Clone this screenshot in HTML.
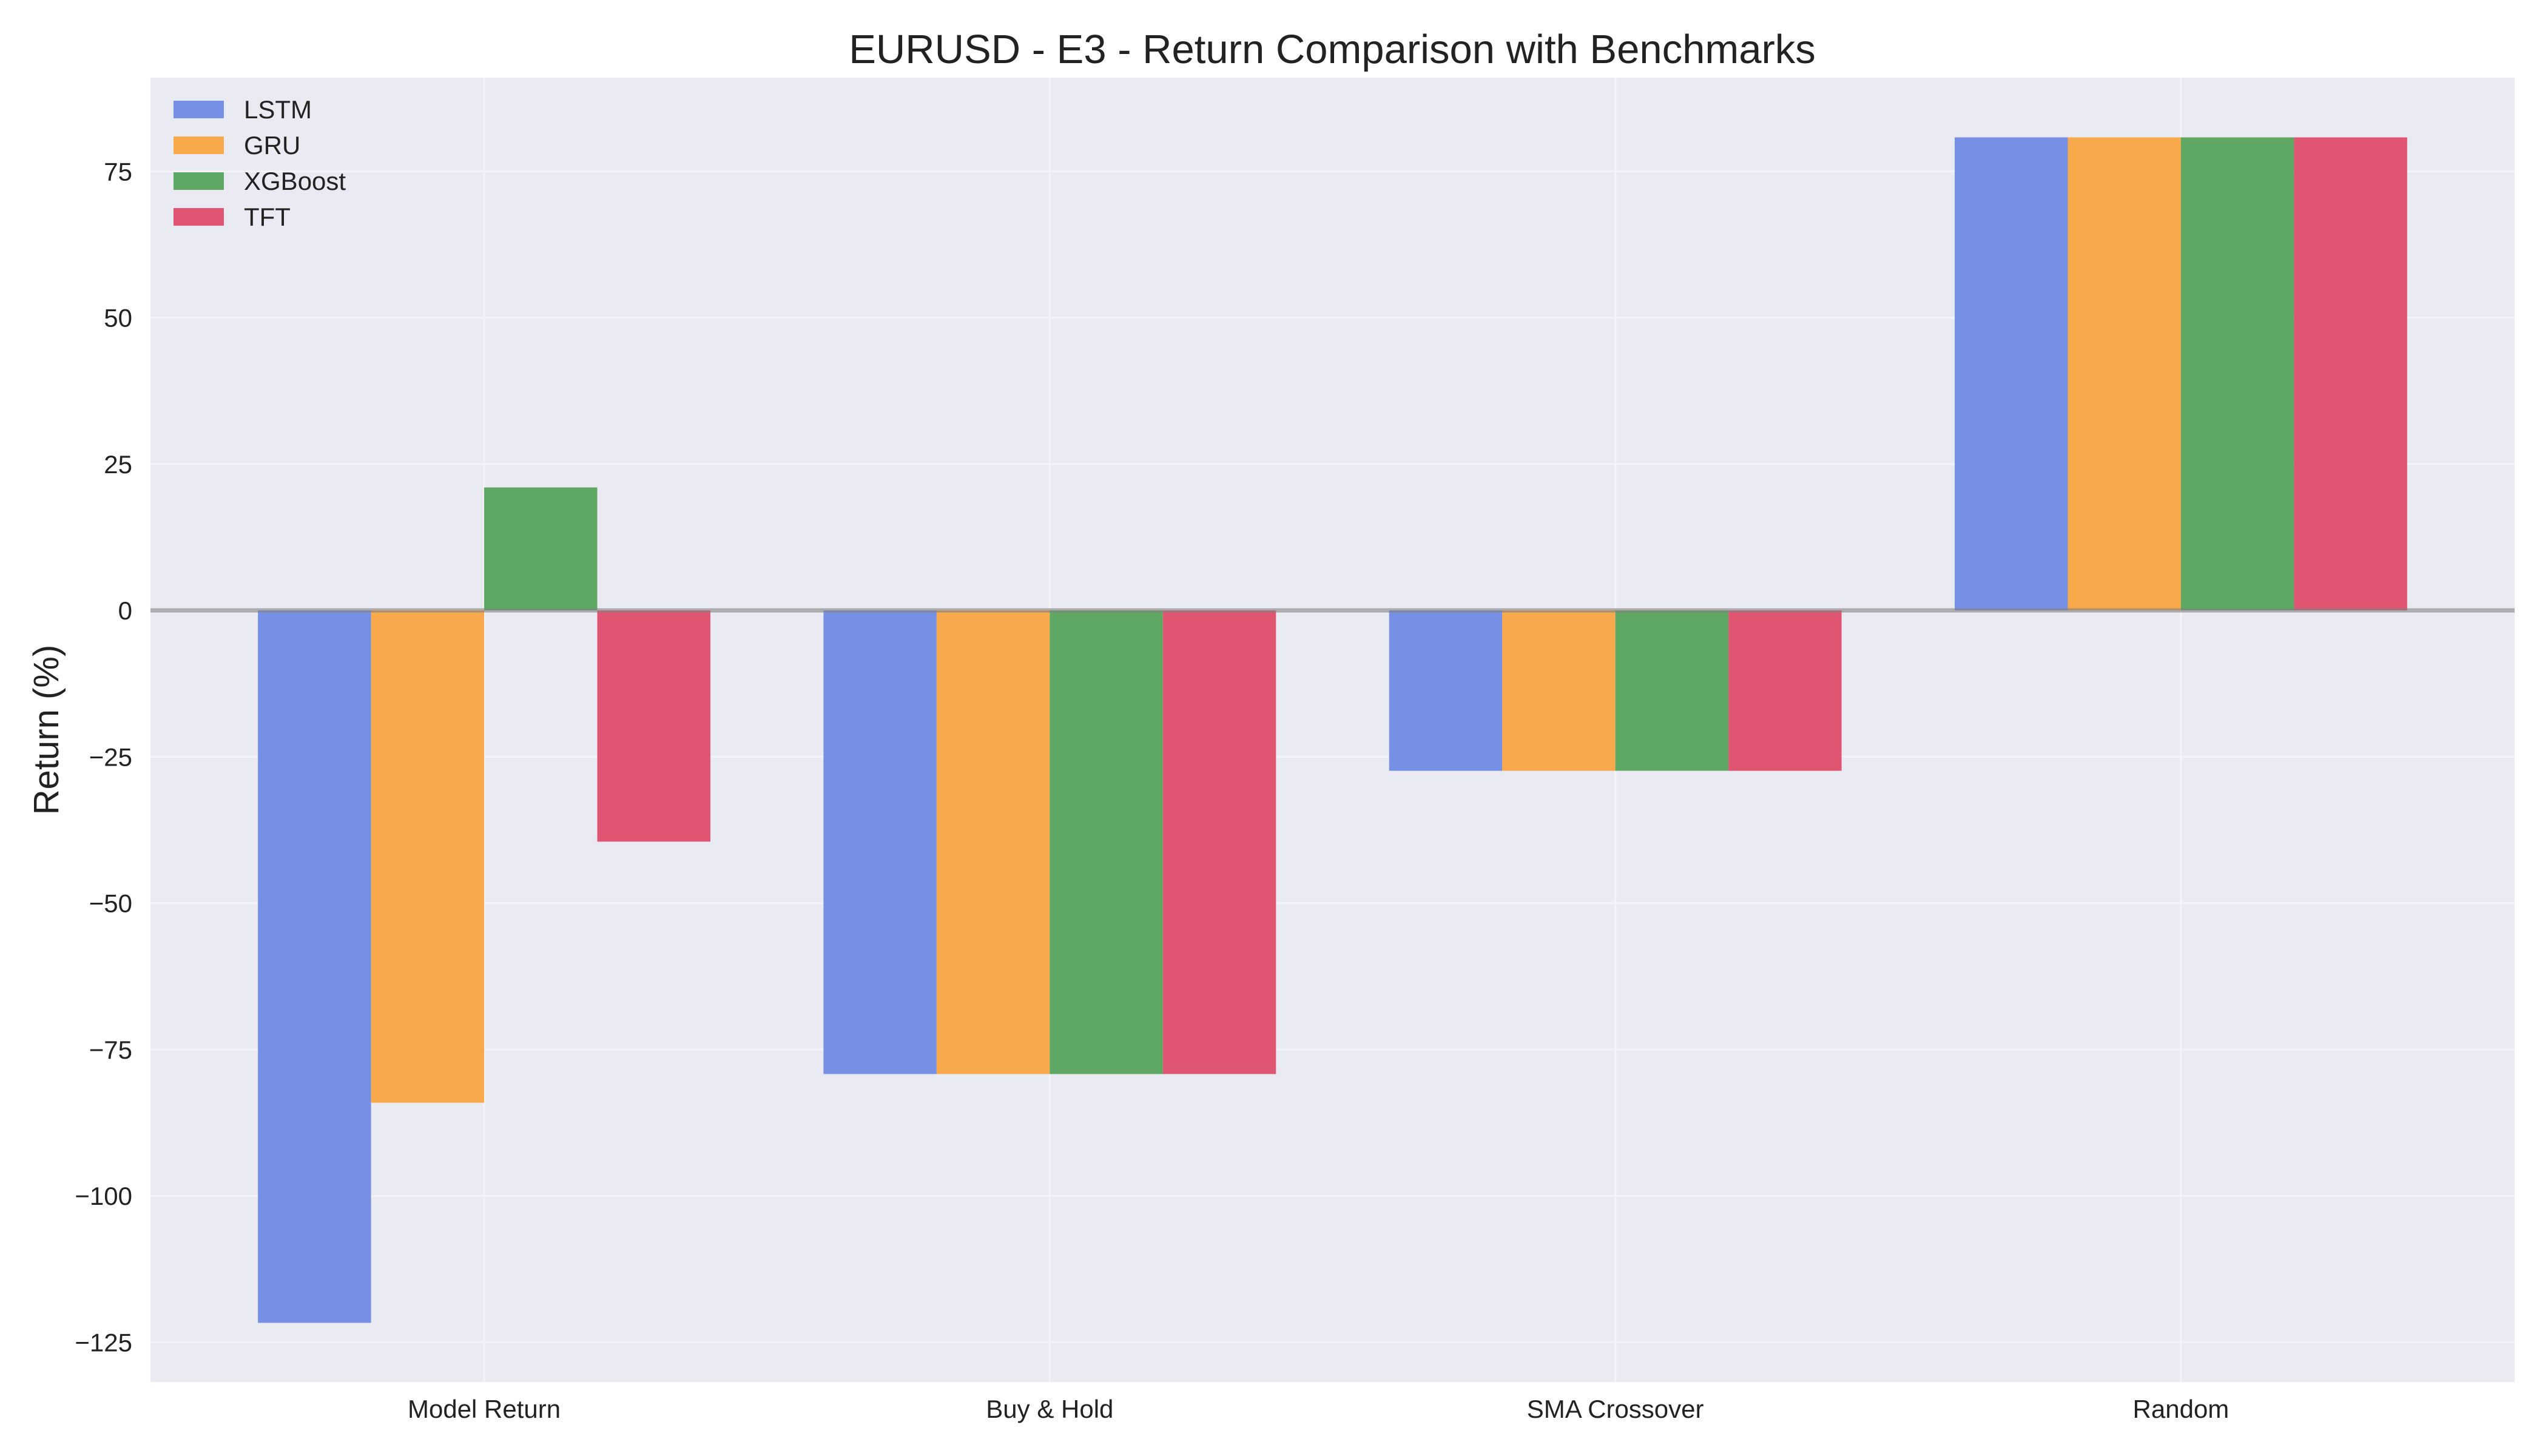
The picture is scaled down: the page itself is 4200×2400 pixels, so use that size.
<!DOCTYPE html>
<html><head><meta charset="utf-8"><style>
html,body{margin:0;padding:0;background:#fff;}
svg{display:block;font-family:"Liberation Sans",Arial,sans-serif;}
</style></head><body>
<svg id="chart" width="4200" height="2400" viewBox="0 0 4200 2400" xmlns="http://www.w3.org/2000/svg">
<rect x="0" y="0" width="4200" height="2400" fill="#ffffff"/>
<text x="2196" y="104" font-size="67" text-anchor="middle" fill="#222">EURUSD - E3 - Return Comparison with Benchmarks</text>
<g id="plot"></g>
</svg>
<script>
const categories = ["Model Return", "Buy & Hold", "SMA Crossover", "Random"];
const seriesNames = ["LSTM", "GRU", "XGBoost", "TFT"];
const lstmValues = [-121.7, -79.2, -27.4, 80.8];
const gruValues = [-84.1, -79.2, -27.4, 80.8];
const xgboostValues = [21.0, -79.2, -27.4, 80.8];
const tftValues = [-39.5, -79.2, -27.4, 80.8];
const yTicks = [-125, -100, -75, -50, -25, 0, 25, 50, 75];
const yTickLabels = ["\u2212125", "\u2212100", "\u221275", "\u221250", "\u221225", "0", "25", "50", "75"];

const colors = ["#7590e4", "#f7a94b", "#5fa863", "#e05572"];
const allSeries = [lstmValues, gruValues, xgboostValues, tftValues];
const L = 248, R = 4145, T = 128, B = 2278;
const xMin = -0.59, xMax = 3.59, yMin = -131.8, yMax = 91.0;
const xs = v => L + (v - xMin) / (xMax - xMin) * (R - L);
const ys = v => T + (yMax - v) / (yMax - yMin) * (B - T);
const NS = "http://www.w3.org/2000/svg";
const g = document.getElementById("plot");
function mk(tag, attrs, parent) {
  const e = document.createElementNS(NS, tag);
  for (const k in attrs) e.setAttribute(k, attrs[k]);
  (parent || g).appendChild(e);
  return e;
}
let e;
e = mk("rect", {x: L, y: T, width: R - L, height: B - T, fill: "#eaeaf2"});


yTicks.forEach((t, i) => {
  const y = ys(t);
  e = mk("line", {x1: L, x2: R, y1: y, y2: y, stroke: "#f4f4f8", "stroke-width": 3});
  
  
  e = mk("text", {x: 218, y: y + 15, "font-size": 42, "text-anchor": "end", fill: "#222"});
  e.textContent = yTickLabels[i];
  
  
});
categories.forEach((c, i) => {
  const x = xs(i);
  e = mk("line", {x1: x, x2: x, y1: T, y2: B, stroke: "#f4f4f8", "stroke-width": 3});
  
  
  e = mk("text", {x: x, y: 2337, "font-size": 42, "text-anchor": "middle", fill: "#222"});
  e.textContent = c;
  
  
});
const bw = 0.2;
allSeries.forEach((vals, s) => {
  vals.forEach((v, i) => {
    const cx = i + (s - 1.5) * bw;
    const x0 = xs(cx - bw / 2), x1 = xs(cx + bw / 2);
    const y0 = ys(Math.max(v, 0)), y1 = ys(Math.min(v, 0));
    e = mk("rect", {x: x0, y: y0, width: x1 - x0, height: y1 - y0, fill: colors[s]});
    
    
  });
});
e = mk("line", {x1: L, x2: R, y1: ys(0), y2: ys(0), stroke: "#808080", "stroke-opacity": 0.6, "stroke-width": 7});


e = mk("text", {x: 0, y: 0, "font-size": 58, "text-anchor": "middle", fill: "#222", transform: "translate(96,1203) rotate(-90)"});
e.textContent = "Return (%)";


seriesNames.forEach((n, s) => {
  const y = 166 + s * 59;
  e = mk("rect", {x: 286, y: y, width: 83, height: 29, fill: colors[s]});
  
  
  e = mk("text", {x: 402, y: y + 29, "font-size": 42, fill: "#222"});
  e.textContent = n;
  
  
});
</script>
</body></html>
